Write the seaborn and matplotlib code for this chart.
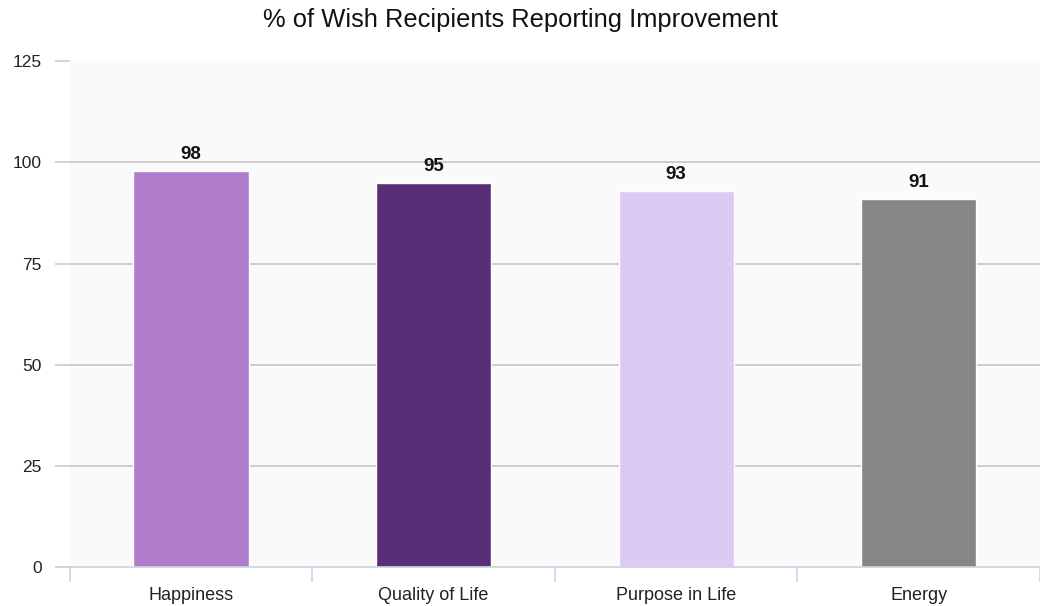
import numpy as np
import matplotlib.pyplot as plt
import seaborn as sns
import pandas as pd

categories = ["Happiness", "Quality of Life", "Purpose in Life", "Energy"]
values = [98, 95, 93, 91]
colors = ["#b07ccc", "#5a2d78", "#dccaf5", "#868686"]
yticks = [0, 25, 50, 75, 100, 125]

sns.set_theme(style="white")
plt.rcParams['font.family'] = ['Liberation Sans', 'DejaVu Sans']

df = pd.DataFrame({"category": categories, "value": values})

fig = plt.figure(figsize=(10.4, 6.06), dpi=100)
ax = fig.add_axes([0.067, 0.064, 0.933, 0.835])
ax.set_facecolor("#fafafa")

sns.barplot(data=df, x="category", y="value", hue="category", palette=colors,
            width=0.475, ax=ax, legend=False, saturation=1)

for i, v in enumerate(values):
    ax.text(i, v + 1.9, str(v), ha="center", va="bottom",
            fontsize=13.5, fontweight="bold", color="#111111")

ax.set_ylim(0, 125)
ax.set_xlim(-0.5, 3.475)
ax.set_yticks(yticks)
ax.set_yticklabels([str(t) for t in yticks], fontsize=12.5, color="#222222")
for t in yticks[1:-1]:
    ax.axhline(t, color="#c4c4c4", lw=1.2, zorder=0)

ax.tick_params(axis="y", length=11, width=1.2, color="#c8ccd4", pad=9, left=True)
ax.set_xticks(range(len(categories)))
ax.set_xticklabels(categories, fontsize=13, color="#222222")
ax.set_xticks(np.arange(-0.5, 4, 1), minor=True)
ax.tick_params(axis="x", which="major", length=0, pad=14)
ax.tick_params(axis="x", which="minor", length=11, width=1.2, color="#c8d3e0", bottom=True)

for s in ["top", "right", "left"]:
    ax.spines[s].set_visible(False)
ax.spines["bottom"].set_color("#c8d3e0")
ax.spines["bottom"].set_linewidth(1.2)

ax.set_xlabel("")
ax.set_ylabel("")
fig.suptitle("% of Wish Recipients Reporting Improvement", fontsize=18.4,
             y=0.986, color="#111111")

plt.savefig("out.png", dpi=100)
